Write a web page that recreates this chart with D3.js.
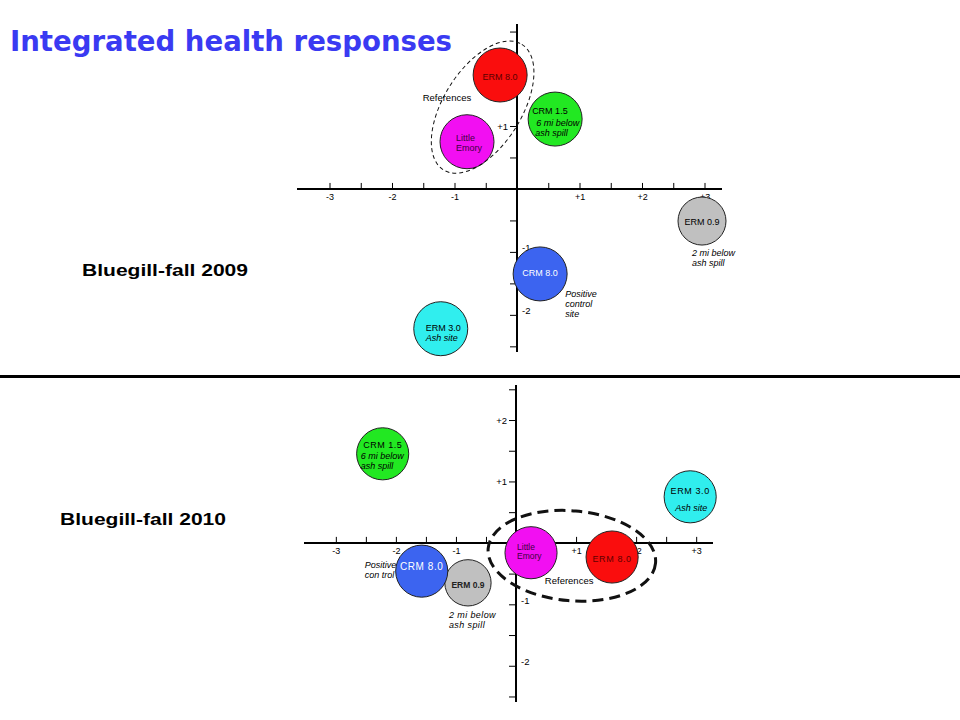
<!DOCTYPE html>
<html>
<head>
<meta charset="utf-8">
<script src="https://cdn.jsdelivr.net/npm/d3@7"></script>
<style>
  html, body { margin: 0; padding: 0; background: #fff; }
  svg { display: block; }
  text { font-family: "Liberation Sans", Arial, sans-serif; }
</style>
</head>
<body>
<svg id="chart" width="960" height="720"></svg>
<script>
// ---------------- DATA ----------------
const sites = ["ERM 8.0", "CRM 1.5", "Little Emory", "ERM 0.9", "CRM 8.0", "ERM 3.0"];
// Bluegill-fall 2009 (axis 1, axis 2)
const ax1_2009 = [-0.27, 0.61, -0.80, 2.96, 0.37, -1.22];
const ax2_2009 = [1.81, 1.11, 0.75, -0.51, -1.35, -2.22];
// Bluegill-fall 2010 (axis 1, axis 2)
const ax1_2010 = [1.60, -2.22, 0.25, -0.80, -1.57, 2.90];
const ax2_2010 = [-0.23, 1.45, -0.16, -0.65, -0.46, 0.75];
// ticks
const xTickValues = [-3, -2.5, -2, -1.5, -1, -0.5, 0.5, 1, 1.5, 2, 2.5, 3];
const xTickLabels = { "-3": "-3", "-2": "-2", "-1": "-1", "1": "+1", "2": "+2", "3": "+3" };
const yTickValues = [-2.5, -2, -1.5, -1, -0.5, 0.5, 1, 1.5, 2, 2.5];
const yTickLabels2009 = { "1": "+1", "-1": "-1", "-2": "-2" };
const yTickLabels2010 = { "2": "+2", "1": "+1", "-1": "-1", "-2": "-2" };
const panelTitles = ["Bluegill-fall 2009", "Bluegill-fall 2010"];
const mainTitle = "Integrated health responses";

// ---------------- STYLES ----------------
const siteFill = {
  "ERM 8.0": "#fa0d0d", "CRM 1.5": "#22e822", "Little Emory": "#f20ff2",
  "ERM 0.9": "#c0c0c0", "CRM 8.0": "#3c64f0", "ERM 3.0": "#30eeee"
};
const siteR = { "ERM 0.9": 24 };
const defaultR = 27;

// label lines for each site, offsets relative to circle centre
const labels2009 = {
  "ERM 8.0": [{t: "ERM 8.0", dx: 0, dy: 5, a: "middle", fill: "#5a0000"}],
  "CRM 1.5": [{t: "CRM 1.5", dx: -23, dy: -5, a: "start"},
              {t: "6 mi below", dx: -19, dy: 7, a: "start", it: true},
              {t: "ash spill", dx: -20, dy: 17, a: "start", it: true}],
  "Little Emory": [{t: "Little", dx: -11, dy: -1, a: "start", fill: "#400040"},
                   {t: "Emory", dx: -11, dy: 9, a: "start", fill: "#400040"}],
  "ERM 0.9": [{t: "ERM 0.9", dx: 0, dy: 4, a: "middle"},
              {t: "2 mi below", dx: -10, dy: 35, a: "start", it: true},
              {t: "ash spill", dx: -10, dy: 45, a: "start", it: true}],
  "CRM 8.0": [{t: "CRM 8.0", dx: 0, dy: 2, a: "middle", fill: "#ffffff"},
              {t: "Positive", dx: 25, dy: 23, a: "start", it: true},
              {t: "control", dx: 25, dy: 33, a: "start", it: true},
              {t: "site", dx: 25, dy: 43, a: "start", it: true}],
  "ERM 3.0": [{t: "ERM 3.0", dx: -15, dy: 2, a: "start"},
              {t: "Ash site", dx: -15, dy: 12, a: "start", it: true}]
};
const labels2010 = {
  "ERM 8.0": [{t: "ERM 8.0", dx: 0, dy: 5, a: "middle", fill: "#600000", ls: 0.6}],
  "CRM 1.5": [{t: "CRM 1.5", dx: 0, dy: -6, a: "middle", ls: 0.5},
              {t: "6 mi below", dx: -22, dy: 5, a: "start", it: true},
              {t: "ash  spill", dx: -22, dy: 15, a: "start", it: true}],
  "Little Emory": [{t: "Little", dx: -14, dy: -3, a: "start", fill: "#400040", fs: 8.5},
                   {t: "Emory", dx: -14, dy: 6, a: "start", fill: "#400040", fs: 8.5}],
  "ERM 0.9": [{t: "ERM 0.9", dx: 0, dy: 5, a: "middle", fill: "#222", bold: true, fs: 8.5},
              {t: "2 mi below", dx: -19, dy: 35, a: "start", it: true, ls: 0.4},
              {t: "ash spill", dx: -19, dy: 45, a: "start", it: true, ls: 0.4}],
  "CRM 8.0": [{t: "CRM 8.0", dx: 0, dy: -1, a: "middle", fill: "#ffffff", ls: 0.6, fs: 10},
              {t: "Positive", dx: -57, dy: -3, a: "start", it: true},
              {t: "con trol", dx: -57, dy: 7, a: "start", it: true}],
  "ERM 3.0": [{t: "ERM 3.0", dx: 0, dy: -3, a: "middle", ls: 0.6},
              {t: "Ash site", dx: 1, dy: 14, a: "middle", it: true}]
};

// ---------------- DRAW ----------------
const svg = d3.select("#chart");

svg.append("text")
  .attr("x", 10).attr("y", 51)
  .attr("textLength", 442).attr("lengthAdjust", "spacingAndGlyphs")
  .style("font-family", "'Comic Sans MS', 'DejaVu Sans', sans-serif")
  .style("font-weight", "bold").style("font-size", "28px")
  .attr("fill", "#3a3af2")
  .text(mainTitle);

// separator
svg.append("line").attr("x1", 0).attr("x2", 960).attr("y1", 376.5).attr("y2", 376.5)
  .attr("stroke", "#000").attr("stroke-width", 3);

const panels = [
  { ax1: ax1_2009, ax2: ax2_2009, labels: labels2009, yLab: yTickLabels2009,
    xDom: [-3.52, 3.28], xRange: [297, 722], yDom: [2.62, -2.59], yRange: [24, 352],
    title: panelTitles[0], tx: 82, ty: 276, rScale: 1,
    ell: { cx: -0.55, cy: 1.3, rx: 74, ry: 39, rot: -58, w: 1, dash: "4,3" },
    refLabel: { dx: -60, dy: -6 } },
  { ax1: ax1_2010, ax2: ax2_2010, labels: labels2010, yLab: yTickLabels2010,
    xDom: [-3.53, 3.28], xRange: [304, 713], yDom: [2.57, -2.59], yRange: [385, 702],
    title: panelTitles[1], tx: 60, ty: 525, rScale: 0.965,
    ell: { cx: 0.93, cy: -0.21, rx: 84, ry: 45, rot: 5, w: 3, dash: "11,6" },
    refLabel: { dx: -27, dy: 28 } }
];

panels.forEach(p => {
  const x = d3.scaleLinear().domain(p.xDom).range(p.xRange);
  const y = d3.scaleLinear().domain(p.yDom).range(p.yRange);
  const g = svg.append("g");

  // panel title
  svg.append("text").attr("x", p.tx).attr("y", p.ty)
    .attr("textLength", 166).attr("lengthAdjust", "spacingAndGlyphs")
    .style("font-weight", "bold").style("font-size", "16px")
    .text(p.title);

  // x axis
  const xAxis = d3.axisBottom(x).tickValues(xTickValues)
    .tickSizeInner(-6).tickSizeOuter(0).tickPadding(5)
    .tickFormat(d => xTickLabels[String(d)] || "");
  const gx = g.append("g").attr("transform", `translate(0,${y(0)})`).call(xAxis);
  gx.select(".domain").remove();
  gx.selectAll(".tick line").attr("stroke", "#000");
  gx.selectAll(".tick text").style("font-size", "9px").style("font-family", "'Liberation Sans', Arial, sans-serif");
  g.append("line").attr("x1", p.xRange[0]).attr("x2", p.xRange[1])
    .attr("y1", y(0)).attr("y2", y(0)).attr("stroke", "#000").attr("stroke-width", 2);

  // y axis
  const yAxis = d3.axisLeft(y).tickValues(yTickValues)
    .tickSizeInner(7).tickSizeOuter(0).tickPadding(2)
    .tickFormat(d => p.yLab[String(d)] || "");
  const gy = g.append("g").attr("transform", `translate(${x(0)},0)`).call(yAxis);
  gy.select(".domain").remove();
  gy.selectAll(".tick line").attr("stroke", "#000");
  gy.selectAll(".tick text").style("font-size", "9.5px").style("font-family", "'Liberation Sans', Arial, sans-serif");
  gy.selectAll(".tick").filter(d => d < 0).select("text")
    .attr("x", 5).attr("y", -4).attr("text-anchor", "start");
  g.append("line").attr("x1", x(0)).attr("x2", x(0))
    .attr("y1", p.yRange[0]).attr("y2", p.yRange[1]).attr("stroke", "#000").attr("stroke-width", 2);

  // circles
  const data = sites.map((s, i) => ({ site: s, a: p.ax1[i], b: p.ax2[i] }));
  const gc = g.append("g");
  gc.selectAll("circle").data(data).join("circle")
    .attr("cx", d => x(d.a)).attr("cy", d => y(d.b))
    .attr("r", d => (siteR[d.site] || defaultR) * p.rScale)
    .attr("fill", d => siteFill[d.site])
    .attr("stroke", "#222").attr("stroke-width", 1);

  // labels
  data.forEach(d => {
    (p.labels[d.site] || []).forEach(l => {
      g.append("text")
        .attr("x", x(d.a) + l.dx).attr("y", y(d.b) + l.dy)
        .attr("text-anchor", l.a)
        .attr("fill", l.fill || "#000")
        .style("font-size", (l.fs || 9) + "px")
        .style("font-style", l.it ? "italic" : "normal")
        .style("font-weight", l.bold ? "bold" : "normal")
        .style("letter-spacing", (l.ls || 0) + "px")
        .text(l.t);
    });
  });

  // references ellipse
  const e = p.ell;
  g.append("ellipse")
    .attr("transform", `translate(${x(e.cx)},${y(e.cy)}) rotate(${e.rot})`)
    .attr("rx", e.rx).attr("ry", e.ry)
    .attr("fill", "none").attr("stroke", "#111")
    .attr("stroke-width", e.w).attr("stroke-dasharray", e.dash);
  g.append("text")
    .attr("x", x(e.cx) + p.refLabel.dx).attr("y", y(e.cy) + p.refLabel.dy)
    .style("font-size", "9.5px")
    .text("References");
});
</script>
</body>
</html>
